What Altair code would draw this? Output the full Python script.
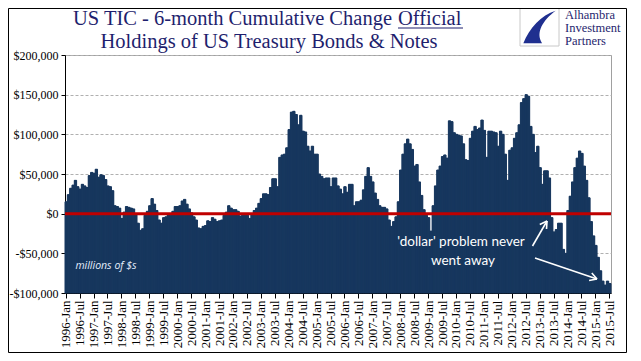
import altair as alt
import pandas as pd

MONTH_NAMES = ["Jan", "Feb", "Mar", "Apr", "May", "Jun",
               "Jul", "Aug", "Sep", "Oct", "Nov", "Dec"]
categories = [f"{y}-{m}" for y in range(1996, 2016) for m in MONTH_NAMES][:235]

values = [
    15000, 24000, 32000, 36000, 42000, 34000, 31000, 37000, 35000, 33000,
    48000, 52000, 51000, 56000, 46000, 49000, 48000, 43000, 35000, 34000,
    29000, 10000, 9000, 7000, -6000, 2000, 9000, 8000, 7000, 6000,
    -1000, -12000, -21000, -19000, -2000, 3000, 10000, 19000, 12000, 4000,
    -8000, -12000, -5000, -4000, -1000, -2000, 3000, 9000, 9000, 10000,
    16000, 18000, 12000, 6000, 1000, -4000, -8000, -18000, -19000, -16000,
    -15000, -9000, -10000, -5000, -7000, -10000, -9000, -8000, -2000, 2000,
    10000, 7000, 5000, 5000, 3000, -3000, -2000, -2000, -2000, -6000,
    0, 4000, 7000, 13000, 19000, 25000, 25000, 24000, 33000, 44000,
    44000, 34000, 71000, 74000, 75000, 83000, 106000, 128000, 129000, 125000,
    112000, 124000, 104000, 103000, 85000, 79000, 85000, 75000, 75000, 50000,
    47000, 44000, 45000, 45000, 34000, 45000, 45000, 35000, 31000, 25000,
    34000, 27000, 37000, 37000, 10000, 15000, 15000, 17000, 30000, 47000,
    58000, 47000, 40000, 26000, 18000, 10000, 8000, 8000, 6000, -8000,
    -16000, -10000, -4000, 15000, 55000, 75000, 88000, 94000, 88000, 81000,
    60000, 62000, 40000, 23000, 5000, -2000, -5000, -22000, 10000, 35000,
    55000, 60000, 72000, 74000, 70000, 117000, 116000, 102000, 100000, 99000,
    98000, 88000, 68000, 67000, 95000, 104000, 110000, 106000, 108000, 118000,
    105000, 71000, 104000, 104000, 103000, 102000, 85000, 104000, 100000, 75000,
    42000, 80000, 83000, 95000, 102000, 112000, 140000, 145000, 150000, 148000,
    110000, 100000, 77000, 85000, 58000, 37000, 54000, 54000, 45000, -5000,
    -23000, -20000, -12000, -12000, -45000, -50000, 4000, 22000, 40000, 58000,
    70000, 79000, 76000, 60000, 42000, 20000, -10000, -28000, -40000, -55000,
    -72000, -85000, -90000, -85000, -88000,
]

tick_labels = [c for c in categories if c.endswith("-Jan") or c.endswith("-Jul")]
y_ticks = [-100000, -50000, 0, 50000, 100000, 150000, 200000]
y_floor = -100000

title_line1a = "US TIC - 6-month Cumulative Change"
title_line1b = "Official"
title_line2 = "Holdings of US Treasury Bonds & Notes"
note_units = "millions of $s"
note_lines = ["'dollar' problem never", "went away"]
logo_lines = ["Alhambra", "Investment", "Partners"]

W, H = 546, 238
PL, PT, PR, PB = 57, 47, 16, 60
NAVY = "#17375E"
TITLE_C = "#1F1F6E"

df = pd.DataFrame({"month": categories, "value": values,
                   "base": [y_floor] * len(values)})

xscale = alt.Scale(paddingInner=0, paddingOuter=0)
xaxis = alt.Axis(values=tick_labels, labelAngle=270, title=None,
                 labelFont="Liberation Serif", labelFontSize=13,
                 labelColor="#000000", domainColor="#000000",
                 tickColor="#000000", tickSize=5, labelPadding=2,
                 grid=False)
yscale = alt.Scale(domain=[-100000, 200000], nice=False, zero=False)
yaxis = alt.Axis(values=y_ticks, title=None, labelOverlap=False,
                 labelExpr="(datum.value < 0 ? '-' : '') + '$' + format(abs(datum.value), ',')",
                 labelFont="Liberation Serif", labelFontSize=12,
                 labelColor="#000000", domainColor="#000000",
                 tickColor="#000000", tickSize=4, labelPadding=3,
                 grid=True, gridColor="#b0b0b0", gridDash=[3, 2], gridWidth=1)

xenc = alt.X("month:N", sort=categories, scale=xscale, axis=xaxis)
yenc = alt.Y("value:Q", scale=yscale, axis=yaxis)

# step-area underlay closes any anti-aliasing seams between adjacent bars
fill = alt.Chart(df).mark_area(color=NAVY, interpolate="step", opacity=1).encode(
    x=xenc, y=yenc, y2="base:Q"
)
bars = alt.Chart(df).mark_bar(color=NAVY, stroke=NAVY, strokeWidth=1.0).encode(
    x=xenc, y=yenc, y2="base:Q"
)

zero = alt.Chart(pd.DataFrame({"value": [0]})).mark_rule(
    color="#C00000", strokeWidth=3
).encode(y=alt.Y("value:Q", scale=yscale, axis=yaxis))


def txt(s, x, y, **kw):
    return alt.Chart(pd.DataFrame({"t": [s]})).mark_text(**kw).encode(
        text="t:N", x=alt.value(x), y=alt.value(y))


def seg(x1, y1, x2, y2, color, width):
    return alt.Chart(pd.DataFrame({"a": [0]})).mark_rule(
        color=color, strokeWidth=width).encode(
        x=alt.value(x1), y=alt.value(y1), x2=alt.value(x2), y2=alt.value(y2))


# page coords -> plot coords
def px(x):
    return x - 65


def py(y):
    return y - 55


layers = [fill, bars, zero]

# titles
layers.append(txt(title_line1a, px(392), py(25), align="right", font="Liberation Serif",
                  fontSize=20.5, color=TITLE_C, baseline="alphabetic"))
layers.append(txt(title_line1b, px(398), py(25), align="left", font="Liberation Serif",
                  fontSize=20.5, color=TITLE_C, baseline="alphabetic"))
layers.append(seg(px(398), py(28), px(463), py(28), TITLE_C, 1.2))
layers.append(txt(title_line2, px(269), py(48), align="center", font="Liberation Serif",
                  fontSize=20.5, color=TITLE_C, baseline="alphabetic"))

# logo
logo_box = alt.Chart(pd.DataFrame({"a": [0]})).mark_rect(
    filled=False, stroke="#c8c8c8", strokeWidth=1).encode(
    x=alt.value(px(520)), x2=alt.value(px(559)), y=alt.value(py(8)), y2=alt.value(py(46)))
layers.append(logo_box)
swoosh = alt.Chart(pd.DataFrame({"a": [0]})).mark_point(
    shape="M 0.95 -0.95 C 0.1 -0.7 -0.6 0.1 -0.95 0.95 L 0.15 0.95 C -0.25 0.35 0.2 -0.4 0.95 -0.95 Z",
    filled=True, color="#1F2F8F", opacity=1, size=34 * 34, strokeWidth=0).encode(
    x=alt.value(px(539.5)), y=alt.value(py(27)))
layers.append(swoosh)
for k, s in enumerate(logo_lines):
    layers.append(txt(s, px(565), py(19 + 13 * k), align="left", font="Liberation Serif",
                      fontSize=12.5, color=TITLE_C, baseline="alphabetic"))

# annotations
layers.append(txt(note_units, px(106), py(269), align="center", font="Open Sans",
                  fontStyle="italic", fontSize=10.5, color="#e6eefc", baseline="alphabetic"))
layers.append(txt(note_lines[0], px(461), py(246), align="center", font="Lato",
                  fontSize=13.5, color="#ffffff", baseline="alphabetic"))
layers.append(txt(note_lines[1], px(463), py(265), align="center", font="Lato",
                  fontSize=13.5, color="#ffffff", baseline="alphabetic"))

# arrows
layers.append(seg(px(532.5), py(246), px(547), py(221), "#ffffff", 1.6))
layers.append(seg(px(547), py(221), px(539.8), py(224.5), "#ffffff", 1.6))
layers.append(seg(px(547), py(221), px(546.5), py(229), "#ffffff", 1.6))
layers.append(seg(px(535), py(258), px(597), py(279), "#ffffff", 1.6))
layers.append(seg(px(597), py(279), px(591.8), py(273), "#ffffff", 1.6))
layers.append(seg(px(597), py(279), px(589.1), py(280.5), "#ffffff", 1.6))

# outer frame
frame = alt.Chart(pd.DataFrame({"a": [0]})).mark_rect(
    filled=False, stroke="#000000", strokeWidth=1).encode(
    x=alt.value(-PL + 0.5), x2=alt.value(W + PR - 0.5),
    y=alt.value(-PT + 0.5), y2=alt.value(H + PB - 0.5))
layers.append(frame)

chart = alt.layer(*layers).properties(
    width=W, height=H,
    autosize=alt.AutoSizeParams(type="none"),
    padding={"left": PL, "top": PT, "right": PR, "bottom": PB},
    background="#ffffff",
).configure_view(stroke="#a0a0a0", strokeWidth=1)

chart.save("out.html", embed_options={"renderer": "svg", "actions": False})
